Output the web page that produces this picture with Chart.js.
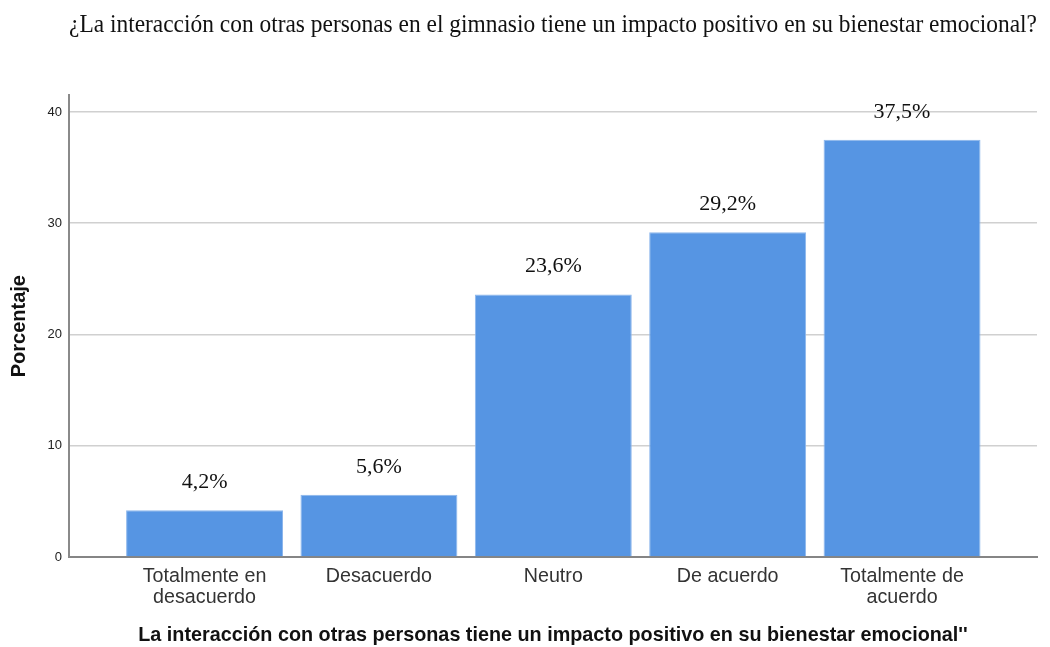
<!DOCTYPE html>
<html>
<head>
<meta charset="utf-8">
<script src="https://cdn.jsdelivr.net/npm/chart.js@4"></script>
<style>
  html, body { margin: 0; padding: 0; background: #ffffff; }
  #wrap { width: 1050px; height: 647px; position: relative; }
</style>
</head>
<body>
<div id="wrap"><canvas id="c" width="1050" height="647"></canvas></div>
<script>
const chartTitle = '¿La interacción con otras personas en el gimnasio tiene un impacto positivo en su bienestar emocional?';
const xAxisTitle = "La interacción con otras personas tiene un impacto positivo en su bienestar emocional''";
const yAxisTitle = 'Porcentaje';
const categories = [
  ['Totalmente en', 'desacuerdo'],
  'Desacuerdo',
  'Neutro',
  'De acuerdo',
  ['Totalmente de', 'acuerdo']
];
const percentages = [4.2, 5.6, 23.6, 29.2, 37.5];
const yTicks = [0, 10, 20, 30, 40];

const points = percentages.map((v, i) => ({ x: i + 1, y: v }));

const valueLabels = {
  id: 'valueLabels',
  afterDatasetsDraw(chart) {
    const ctx = chart.ctx;
    const meta = chart.getDatasetMeta(0);
    ctx.save();
    ctx.font = '22px "Liberation Serif", "Times New Roman", serif';
    ctx.fillStyle = '#111111';
    ctx.textAlign = 'center';
    ctx.textBaseline = 'alphabetic';
    meta.data.forEach((bar, i) => {
      const txt = percentages[i].toFixed(1).replace('.', ',') + '%';
      ctx.fillText(txt, bar.x, bar.y - 22);
    });
    ctx.restore();
  }
};

new Chart(document.getElementById('c'), {
  type: 'bar',
  data: {
    datasets: [{
      data: points,
      backgroundColor: '#5695e3',
      borderColor: '#8cb6ec',
      borderWidth: 1,
      barPercentage: 0.9,
      categoryPercentage: 1.0
    }]
  },
  options: {
    responsive: false,
    animation: false,
    devicePixelRatio: 1,
    layout: { padding: { left: 0, right: 13, top: 0, bottom: 0 } },
    plugins: {
      legend: { display: false },
      tooltip: { enabled: false },
      title: {
        display: true,
        text: chartTitle,
        fullSize: false,
        color: '#111111',
        font: { family: '"Liberation Serif", "Times New Roman", serif', size: 24.4, weight: 'normal', lineHeight: 1.2 },
        padding: { top: 11, bottom: 55 }
      }
    },
    scales: {
      x: {
        type: 'linear',
        offset: false,
        min: 0.2226,
        max: 5.774,
        afterBuildTicks(scale) {
          scale.ticks = categories.map((c, i) => ({ value: i + 1 }));
        },
        afterFit(scale) { scale.height = 90; },
        grid: { display: false, drawTicks: false },
        border: { display: true, color: '#858585', width: 2 },
        ticks: {
          autoSkip: false,
          maxRotation: 0,
          padding: 10,
          color: '#333333',
          font: { family: '"Liberation Sans", Arial, sans-serif', size: 19.7, lineHeight: 1.02 },
          callback(value) { return categories[Math.round(value) - 1]; }
        },
        title: {
          display: true,
          text: xAxisTitle,
          color: '#111111',
          font: { family: '"Liberation Sans", Arial, sans-serif', size: 19.8, weight: 'bold', lineHeight: 1.2 },
          padding: { top: 0, bottom: 0 }
        }
      },
      y: {
        min: 0,
        max: 41.5,
        afterBuildTicks(scale) {
          scale.ticks = yTicks.map(v => ({ value: v }));
        },
        afterFit(scale) { scale.width = 69; },
        grid: {
          drawTicks: false,
          lineWidth: 1.5,
          color(ctx) { return ctx.tick && ctx.tick.value === 0 ? 'rgba(0,0,0,0)' : '#d0d0d0'; }
        },
        border: { display: true, color: '#8a8a8a', width: 2 },
        ticks: {
          padding: 7,
          color: '#222222',
          font: { family: '"Liberation Sans", Arial, sans-serif', size: 13 }
        },
        title: {
          display: true,
          text: yAxisTitle,
          color: '#111111',
          font: { family: '"Liberation Sans", Arial, sans-serif', size: 20, weight: 'bold', lineHeight: 1.2 },
          padding: { top: 7, bottom: 0 }
        }
      }
    }
  },
  plugins: [valueLabels]
});
</script>
</body>
</html>
